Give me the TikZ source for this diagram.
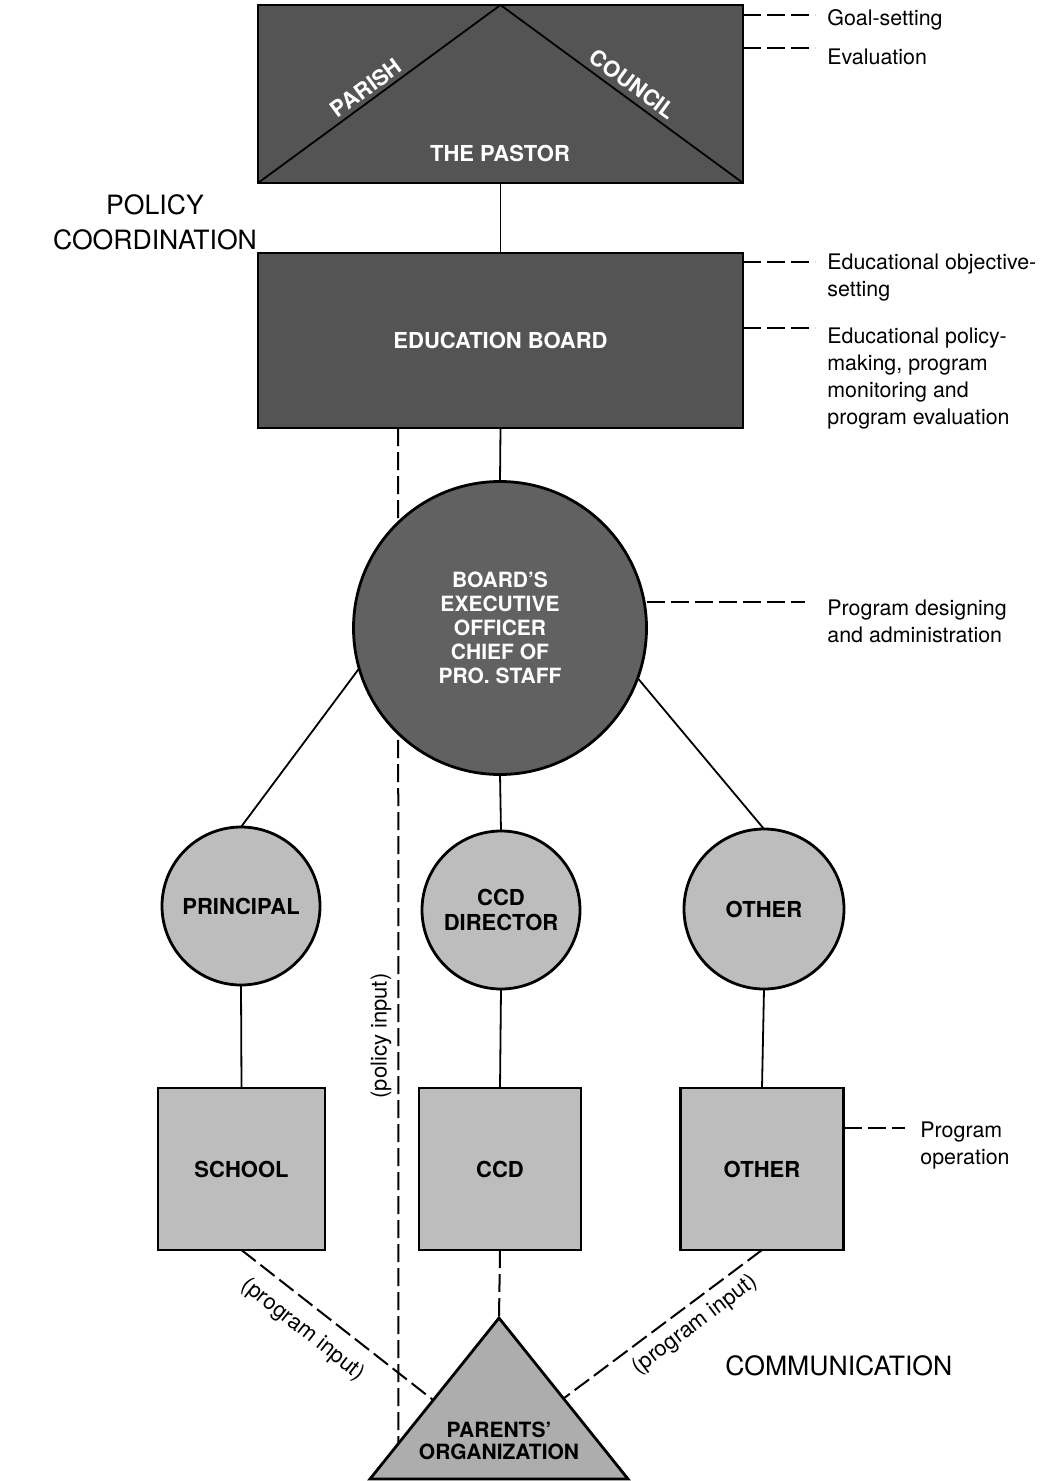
\documentclass[tikz,border=0pt]{standalone}
\usepackage{fontspec}
\setmainfont{TeX Gyre Heros}
\usetikzlibrary{calc}
\definecolor{shdark}{gray}{0.33}
\definecolor{shcirc}{gray}{0.38}
\definecolor{shlight}{gray}{0.74}
\definecolor{shtri}{gray}{0.68}
\begin{document}
\begin{tikzpicture}[x=0.5pt,y=-0.5pt,
  box/.style={draw, line width=1.4pt, inner sep=0pt, outer sep=0pt},
  conn/.style={line width=0.9pt},
  dconn/.style={line width=1pt, dash pattern=on 9pt off 3pt},
  lbl/.style={font=\fontsize{10.7}{13.5}\selectfont, align=left, inner sep=0pt},
  bl/.style={font=\fontsize{11}{12}\selectfont\bfseries, align=center, inner sep=0pt},
  wl/.style={bl, text=white},
  big/.style={font=\fontsize{13.3}{17.5}\selectfont, align=center, inner sep=0pt}]
\useasboundingbox (0,0) rectangle (1055,1481);

% top: parish council
\node[box, fill=shdark, minimum width=242.5pt, minimum height=89pt] (pr) at (500.5,94) {};
\draw[conn] (pr.south west) -- (pr.north) -- (pr.south east);
\node[wl, rotate=36.3] (parish) at (366,88) {PARISH};
\node[wl, rotate=-36.3] (council) at (633,84) {COUNCIL};
\node[wl] (pastor) at (500,153) {THE PASTOR};

% education board
\node[box, fill=shdark, minimum width=242.5pt, minimum height=87.5pt, wl] (board) at (500.5,340.5) {EDUCATION BOARD};
\draw[conn] (pr.south) -- (board.north);

% triangle coordinates
\coordinate (tA) at (499,1318);
\coordinate (tL) at (370,1479);
\coordinate (tR) at (628,1479);

% policy input dashed line (behind circle)
\draw[dconn] ($(board.south west)!0.289!(board.south east)$) -- ($(tL)!0.22!(tA)$);
\node[lbl, rotate=90, font=\fontsize{11}{13}\selectfont] (polin) at (381,1036) {(policy input)};

% executive circle
\node[circle, box, fill=shcirc, minimum size=146.5pt, font=\fontsize{10.5}{12}\selectfont\bfseries, text=white, align=center] (exec) at (500,628)
  {BOARD'S\\EXECUTIVE\\OFFICER\\CHIEF OF\\PRO. STAFF};
\draw[conn] (board.south) -- (exec.north);

% small circles
\node[circle, box, fill=shlight, minimum size=79pt, bl] (prin) at (241,906) {PRINCIPAL};
\node[circle, box, fill=shlight, minimum size=79pt, bl, font=\fontsize{11}{12.5}\selectfont\bfseries] (ccdd) at (501,910) {CCD\\DIRECTOR};
\node[circle, box, fill=shlight, minimum size=80pt, bl] (oth) at (764,909) {OTHER};
\draw[conn] (exec.196) -- (prin.north);
\draw[conn] (exec.south) -- (ccdd.north);
\draw[conn] (exec.340) -- (oth.north);

% squares
\node[box, fill=shlight, minimum width=83.5pt, minimum height=81pt, bl] (school) at (241.5,1169) {SCHOOL};
\node[box, fill=shlight, minimum width=81pt, minimum height=81pt, bl] (ccd) at (500,1169) {CCD};
\node[box, fill=shlight, minimum width=81.5pt, minimum height=81pt, bl] (other) at (762,1169) {OTHER};
\draw[conn] (prin.south) -- (school.north);
\draw[conn] (ccdd.south) -- (ccd.north);
\draw[conn] (oth.south) -- (other.north);

% parents' organization triangle
\draw[line width=1.4pt, fill=shtri] (tL) -- (tA) -- (tR) -- cycle;
\node[bl, font=\fontsize{10.5}{11}\selectfont\bfseries] (parents) at (499,1441) {PARENTS'\\ORGANIZATION};
\draw[dconn] (ccd.south) -- (tA);
\draw[dconn] (school.south) -- ($(tL)!0.49!(tA)$);
\draw[dconn] (other.south) -- ($(tR)!0.5!(tA)$);
\node[lbl, rotate=-38.3, font=\fontsize{11}{13}\selectfont] (pin1) at (303,1330) {(program input)};
\node[lbl, rotate=37, font=\fontsize{11}{13}\selectfont] (pin2) at (695,1325) {(program input)};

% right-hand labels
\coordinate (d1) at (815,15);
\coordinate (d2) at (815,48);
\coordinate (d3) at (815,262);
\coordinate (d4) at (815,328);
\coordinate (d5) at (805,602);
\coordinate (d6) at (905,1128);
\draw[dconn] (pr.east |- d1) -- (d1);
\draw[dconn] (pr.east |- d2) -- (d2);
\draw[dconn] (board.east |- d3) -- (d3);
\draw[dconn] (board.east |- d4) -- (d4);
\draw[dconn] (exec.east |- d5) -- (d5);
\draw[dconn] (other.east |- d6) -- (d6);
\node[lbl, anchor=west] (l1) at (827,20) {Goal-setting};
\node[lbl, anchor=west] (l2) at (827,57) {Evaluation};
\node[lbl, anchor=north west] (l3) at (827,254) {Educational objective-\\setting};
\node[lbl, anchor=north west] (l4) at (827,327) {Educational policy-\\making, program\\monitoring and\\program evaluation};
\node[lbl, anchor=north west] (l5) at (827,599) {Program designing\\and administration};
\node[lbl, anchor=north west] (l6) at (920,1121) {Program\\operation};

% side headings
\node[big] (polco) at (155,222) {POLICY\\COORDINATION};
\node[big, anchor=west] (comm) at (725,1366) {COMMUNICATION};
\end{tikzpicture}
\end{document}
